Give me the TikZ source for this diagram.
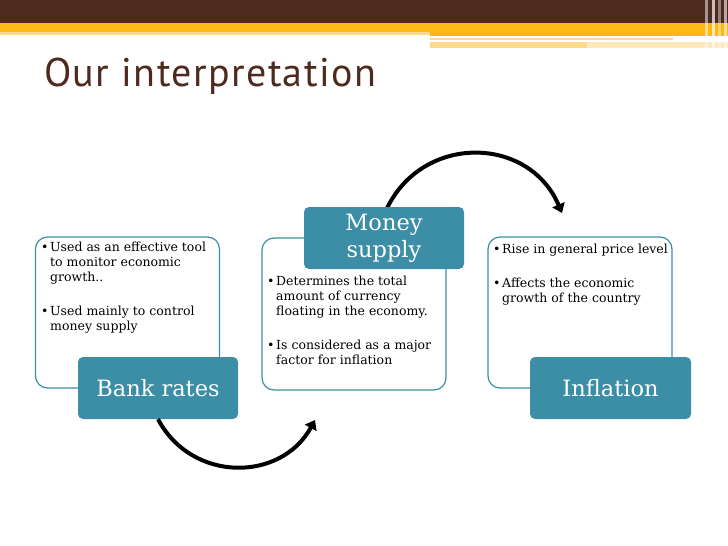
\documentclass[tikz,border=0pt]{standalone}
\usepackage{fontspec}
\setmainfont{DejaVu Serif}
\newfontfamily\titlefont[LetterSpace=3.5]{PT Sans}
\usetikzlibrary{arrows.meta}

\definecolor{barbrown}{HTML}{4E2A1E}
\definecolor{bargold}{HTML}{FDB913}
\definecolor{barlight}{HTML}{FFD98A}
\definecolor{boxteal}{HTML}{3B8EA5}

\newcommand{\bul}{\makebox[9pt][l]{\textbullet}}
\newcommand{\ind}{\hspace*{9pt}}

\begin{document}
\begin{tikzpicture}[x=1pt, y=-1pt, >={Triangle[length=9pt,width=13pt]},
    textbox/.style={draw=boxteal, line width=1.2pt, rounded corners=12pt,
        minimum width=184pt, minimum height=151pt, inner sep=0pt},
    headbox/.style={fill=boxteal, rounded corners=5pt, text=white,
        minimum width=160pt, minimum height=62pt, inner sep=0pt,
        align=center, font=\fontsize{22.5}{27}\selectfont},
    bullets/.style={anchor=north west, inner sep=0pt, align=left,
        font=\fontsize{12.5}{15}\selectfont},
    cycle/.style={->, line width=4pt}]

    \useasboundingbox (0,0) rectangle (728,546);

    % top bar
    \fill[barbrown] (0,0) rectangle (728,23);
    \fill[bargold] (0,23) rectangle (728,32);
    \fill[bargold] (430,32) rectangle (728,36);
    \fill[barlight] (0,32) rectangle (430,35);
    \fill[barlight] (430,38) rectangle (673,40);
    \fill[barlight] (430,42) rectangle (587,48);
    \fill[barlight!60] (587,42) rectangle (728,48);
    \foreach \xs/\op in {705/0.5, 712/0.7, 718/0.4, 724/0.6}{
        \fill[white, opacity=\op] (\xs,0) rectangle ++(2.5,48);
    }

    % title
    \node[anchor=base west, inner sep=0pt, text=barbrown,
        font=\titlefont\fontsize{40}{42}\selectfont] (title) at (44,86)
        {Our interpretation};

    % cycle arrows
    \coordinate (bottomtip) at (315,420);
    \coordinate (toptip) at (562,213);

    % text boxes
    \node[textbox] (banktext) at (127.5,312.5) {};
    \node[textbox, minimum height=152pt] (moneytext) at (354,314) {};
    \node[textbox] (inftext) at (580,312.5) {};

    \node[bullets] (bankitems) at (41,242) {%
        \bul Used as an effective tool\\
        \ind to monitor economic\\
        \ind growth..\\[19pt]
        \bul Used mainly to control\\
        \ind money supply};
    \node[bullets] (moneyitems) at (267,276) {%
        \bul Determines the total\\
        \ind amount of currency\\
        \ind floating in the economy.\\[19pt]
        \bul Is considered as a major\\
        \ind factor for inflation};
    \node[bullets] (infitems) at (493,244) {%
        \bul Rise in general price level\\[19pt]
        \bul Affects the economic\\
        \ind growth of the country};

    % headings
    \draw[cycle] (384,215) .. controls (417,133.5) and (528,133.5) .. (toptip);
    \node[headbox] (bank) at (158,388) {Bank rates};
    \node[headbox] (money) at (384,238) {Money\\supply};
    \node[headbox, minimum width=161pt] (inflation) at (610.5,388) {Inflation};

    \draw[cycle] (bank.south) .. controls (192,483) and (281,482) .. (bottomtip);
\end{tikzpicture}
\end{document}
